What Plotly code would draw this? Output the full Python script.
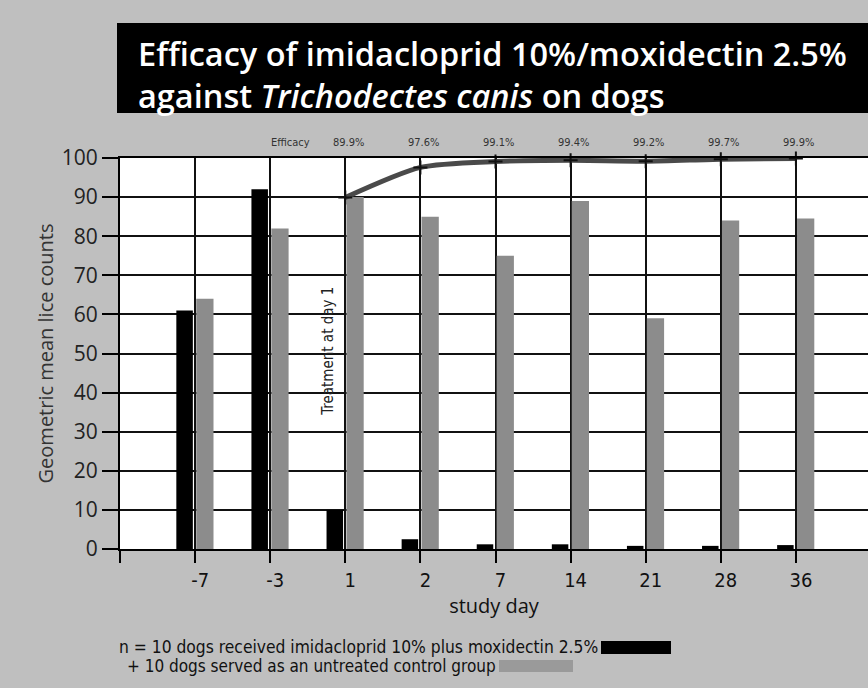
import plotly.graph_objects as go

# ---- data ----
days = ["-7", "-3", "1", "2", "7", "14", "21", "28", "36"]
treated = [61, 92, 10, 2.5, 1.2, 1.2, 0.8, 0.8, 1.0]
control = [64, 82, 90, 85, 75, 89, 59, 84, 84.5]
efficacy_days = ["1", "2", "7", "14", "21", "28", "36"]
efficacy = [89.9, 97.6, 99.1, 99.4, 99.2, 99.7, 99.9]
y_ticks = [0, 10, 20, 30, 40, 50, 60, 70, 80, 90, 100]
treated_name = "n = 10 dogs received imidacloprid 10% plus moxidectin 2.5%"
control_name = "+ 10 dogs served as an untreated control group"
title_text = "Efficacy of imidacloprid 10%/moxidectin 2.5%<br>against <i>Trichodectes canis</i> on dogs"

W, H = 868, 688
L, R_, T, B = 120, 0, 158, 139
PW, PH = W - L - R_, H - T - B

def px_x(px):
    return (px - L) / PW

def px_y(py):
    return (H - B - py) / PH

xi = list(range(len(days)))
eff_x = [days.index(d) for d in efficacy_days]

FONT = "Open Sans, DejaVu Sans, sans-serif"
NARROW = "Liberation Sans Narrow, DejaVu Sans Condensed, Open Sans, sans-serif"

fig = go.Figure()
fig.add_trace(go.Bar(x=xi, y=treated, name=treated_name, marker_color="#000000",
                     offset=-0.25, width=0.22, marker_line_width=0, showlegend=False))
fig.add_trace(go.Bar(x=xi, y=control, name=control_name, marker_color="#8c8c8c",
                     offset=0.015, width=0.23, marker_line_width=0, showlegend=False))
fig.add_trace(go.Scatter(x=eff_x, y=efficacy, mode="lines+markers",
                         line=dict(color="#4a4a4a", width=5, shape="spline", smoothing=0.7),
                         marker=dict(symbol="cross-thin", size=10, line=dict(width=2, color="#111")),
                         cliponaxis=False, showlegend=False))

annotations = []
# title (two lines)
annotations.append(dict(x=px_x(136), y=px_y(74), xref="paper", yref="paper", text=title_text,
                        showarrow=False, xanchor="left", yanchor="middle", align="left",
                        font=dict(size=32.5, color="#ffffff", family=FONT, weight=600)))
# efficacy labels
annotations.append(dict(x=1.56, y=px_y(143), xref="x", yref="paper", text="Efficacy",
                        showarrow=False, xanchor="right", yanchor="middle",
                        font=dict(size=11, color="#333", family=NARROW)))
for d, v in zip(efficacy_days, efficacy):
    annotations.append(dict(x=days.index(d) + 0.04, y=px_y(143), xref="x", yref="paper",
                            text=f"{v}%", showarrow=False, xanchor="center", yanchor="middle",
                            font=dict(size=11, color="#333", family=NARROW)))
# treatment note
annotations.append(dict(x=1.76, y=50.5, xref="x", yref="y", text="Treatment at day 1",
                        textangle=-90, showarrow=False, font=dict(size=15, color="#222", family=NARROW)))
# legend text
annotations.append(dict(x=px_x(117), y=px_y(647), xref="paper", yref="paper", text=treated_name,
                        showarrow=False, xanchor="left", yanchor="middle",
                        font=dict(size=17.3, color="#111", family=NARROW)))
annotations.append(dict(x=px_x(125), y=px_y(666), xref="paper", yref="paper", text=control_name,
                        showarrow=False, xanchor="left", yanchor="middle",
                        font=dict(size=17, color="#111", family=NARROW)))

shapes = [
    dict(type="rect", xref="paper", yref="paper", x0=px_x(117), x1=px_x(870),
         y0=px_y(113), y1=px_y(23), fillcolor="#000", line_width=0, layer="below"),
    dict(type="rect", xref="paper", yref="paper", x0=px_x(601), x1=px_x(671),
         y0=px_y(654), y1=px_y(641), fillcolor="#000", line_width=0),
    dict(type="rect", xref="paper", yref="paper", x0=px_x(499), x1=px_x(573),
         y0=px_y(672), y1=px_y(660), fillcolor="#9a9a9a", line_width=0),
]

fig.update_layout(
    width=W, height=H,
    margin=dict(l=L, r=R_, t=T, b=B),
    paper_bgcolor="#bfbfbf", plot_bgcolor="#ffffff",
    barmode="overlay",
    annotations=annotations, shapes=shapes,
    font=dict(family=FONT, color="#222"),
)
fig.update_xaxes(
    range=[-1, 8.96], tickmode="array", tickvals=[-1] + xi, ticktext=[""] + days,
    showgrid=True, gridcolor="#111", gridwidth=1.5,
    showline=True, linecolor="#000", linewidth=2, mirror=True,
    ticks="outside", ticklen=12, tickwidth=1.5, tickcolor="#000",
    ticklabelshift=5, tickfont=dict(size=20, color="#111", family=NARROW),
    title=dict(text="study day", font=dict(size=20, color="#111", family=FONT), standoff=4),
    zeroline=False,
)
fig.update_yaxes(
    range=[0, 100], tickmode="array", tickvals=y_ticks,
    showgrid=True, gridcolor="#111", gridwidth=1.5,
    showline=True, linecolor="#000", linewidth=2,
    ticks="outside", ticklen=16, tickwidth=1.5, tickcolor="#000",
    tickfont=dict(size=21, color="#222", family=FONT),
    title=dict(text="Geometric mean lice counts", font=dict(size=20, color="#333", family=FONT), standoff=3),
    zeroline=False,
)

fig.write_html("out.html", config={"displayModeBar": False},
               post_script="document.body.style.margin='0';document.body.style.overflow='hidden';")
